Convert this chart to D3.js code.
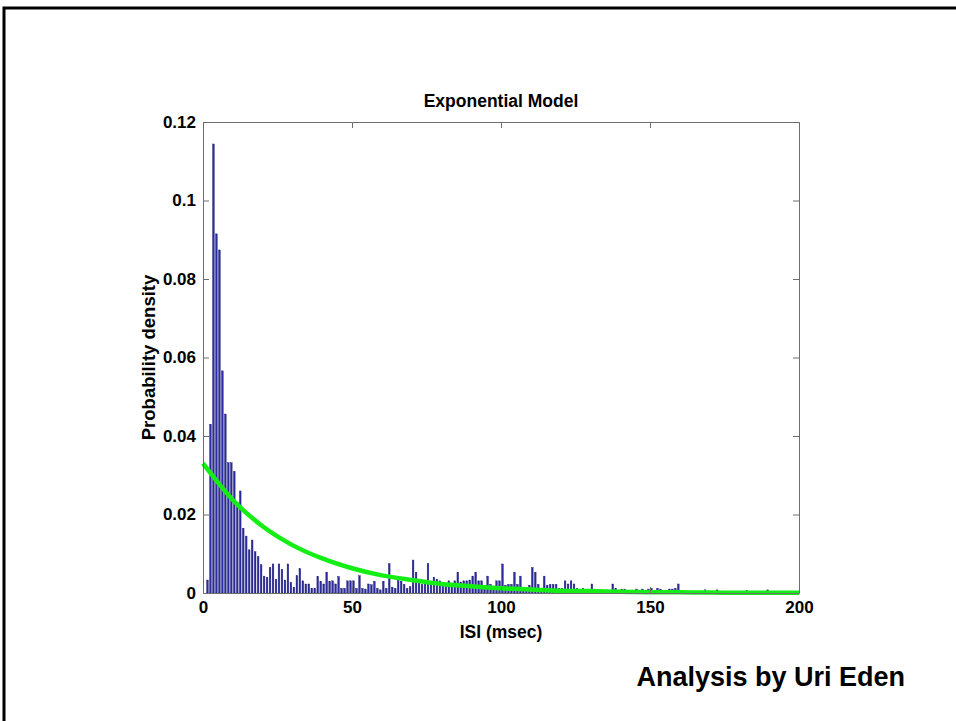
<!DOCTYPE html>
<html>
<head>
<meta charset="utf-8">
<script src="https://cdn.jsdelivr.net/npm/d3@7"></script>
<style>
  html, body { margin: 0; padding: 0; background: #fff; }
  svg text { font-family: "Liberation Sans", Arial, Helvetica, sans-serif; font-weight: bold; }
</style>
</head>
<body>
<svg id="chart" width="956" height="721"></svg>
<script>
// ISI histogram, 1 msec bins (0-1, 1-2, ... 199-200), probability density
var density = [
  0, 0.0033, 0.043, 0.1144, 0.0915, 0.0874, 0.0566, 0.0456, 0.0332, 0.0332,
  0.031, 0.023, 0.026, 0.0165, 0.0145, 0.011, 0.0135, 0.0105, 0.0093, 0.0072,
  0.0043, 0.004, 0.0065, 0.0074, 0.0035, 0.0074, 0.006, 0.0033, 0.0074, 0.0027,
  0.0015, 0.0044, 0.0062, 0.0031, 0.0023, 0.0023, 0.0012, 0.0012, 0.0042, 0.003,
  0.0023, 0.0053, 0.003, 0.0031, 0.0023, 0.0042, 0.0012, 0.0012, 0.0031, 0.0031,
  0.0031, 0.0012, 0.0044, 0.0012, 0.001, 0.0023, 0.0021, 0.003, 0.0012, 0.0008,
  0.003, 0.0012, 0.0075, 0.0015, 0.0012, 0.0032, 0.003, 0.0022, 0.0012, 0.0016,
  0.0084, 0.0053, 0.0025, 0.0022, 0.0028, 0.0075, 0.0028, 0.004, 0.0035, 0.0031,
  0.0022, 0.002, 0.0031, 0.0025, 0.0031, 0.0053, 0.0028, 0.0031, 0.0031, 0.0033,
  0.0043, 0.0053, 0.0031, 0.0031, 0.002, 0.0043, 0.0022, 0.0012, 0.0031, 0.0031,
  0.0074, 0.002, 0.0022, 0.0022, 0.0053, 0.0022, 0.0043, 0.001, 0.0012, 0.002,
  0.0065, 0.0053, 0.0022, 0.0012, 0.0043, 0.002, 0.0022, 0.0022, 0.0022, 0.0012,
  0.0012, 0.0031, 0.0023, 0.0031, 0.0023, 0.0012, 0.0008, 0.0012, 0.0006, 0.0008,
  0.0023, 0.0008, 0.0006, 0.0008, 0.0006, 0.0008, 0.0006, 0.0023, 0.0012, 0.0006,
  0.001, 0.001, 0.0004, 0, 0.0004, 0.001, 0.0006, 0.001, 0.0004, 0.001,
  0.0012, 0.0006, 0.0012, 0.001, 0, 0.0004, 0.001, 0.001, 0.0012, 0.0023,
  0, 0, 0, 0, 0, 0, 0, 0, 0.0008, 0,
  0, 0, 0.0008, 0, 0, 0, 0, 0, 0, 0,
  0, 0, 0.0006, 0, 0, 0, 0, 0, 0, 0.0008,
  0, 0, 0, 0, 0, 0, 0, 0, 0, 0
];

// fitted exponential model
var modelX = [0, 10, 20, 30, 40, 50, 60, 70, 80, 90, 100, 110, 120, 130, 140, 150, 160, 170, 180, 190, 200];
var modelY = [0.033, 0.0237, 0.017, 0.0122, 0.0088, 0.0063, 0.0045, 0.0033, 0.0023, 0.0017,
  0.0012, 0.0009, 0.0006, 0.0005, 0.0003, 0.0002, 0.00017, 0.0001, 0.00009, 0.00006, 0.00004];

var xTicks = [0, 50, 100, 150, 200];
var yTicks = [0, 0.02, 0.04, 0.06, 0.08, 0.1, 0.12];

var svg = d3.select("#chart"),
  width = +svg.attr("width"),
  height = +svg.attr("height");

var plot = { left: 203, right: 799, top: 122, bottom: 593 };
var axisColor = "#6e6e6e";

// slide frame (left and top edges)
svg.append("path")
  .attr("d", "M4,721 L4,8 L956,8")
  .attr("fill", "none")
  .attr("stroke", "#000")
  .attr("stroke-width", 3);

var x = d3.scaleLinear().domain([0, 200]).range([plot.left, plot.right]);
var y = d3.scaleLinear().domain([0, 0.12]).range([plot.bottom, plot.top]);

// bars
var binW = x(1) - x(0);
svg.append("g")
  .selectAll("rect")
  .data(density.map(function (v, i) { return { bin: i, v: v }; }).filter(function (d) { return d.v > 0; }))
  .enter().append("rect")
  .attr("x", function (d) { return x(d.bin + 0.5) - binW * 0.28; })
  .attr("width", binW * 0.56)
  .attr("y", function (d) { return y(d.v); })
  .attr("height", function (d) { return y(0) - y(d.v); })
  .attr("fill", "#2c2c9c")
  .attr("stroke", "#1a1a78")
  .attr("stroke-width", 0.4);

// model curve
var line = d3.line()
  .x(function (d) { return x(d[0]); })
  .y(function (d) { return y(d[1]); })
  .curve(d3.curveMonotoneX);

svg.append("path")
  .datum(modelX.map(function (v, i) { return [v, modelY[i]]; }))
  .attr("d", line)
  .attr("fill", "none")
  .attr("stroke", "#14ee14")
  .attr("stroke-width", 4.5);

// axes, MATLAB style box with inward ticks
function styleAxis(g) {
  g.selectAll(".domain").attr("stroke", axisColor);
  g.selectAll(".tick line").attr("stroke", axisColor);
  g.selectAll(".tick text").attr("fill", "#000").style("font-size", "17px").style("font-weight", "bold");
}

svg.append("g")
  .attr("transform", "translate(0," + plot.bottom + ")")
  .call(d3.axisBottom(x).tickValues(xTicks).tickSizeInner(-6).tickSizeOuter(0).tickPadding(8)
    .tickFormat(d3.format("d")))
  .call(styleAxis);

svg.append("g")
  .attr("transform", "translate(0," + plot.top + ")")
  .call(d3.axisTop(x).tickValues(xTicks).tickSizeInner(-6).tickSizeOuter(0).tickFormat(""))
  .call(styleAxis);

svg.append("g")
  .attr("transform", "translate(" + plot.left + ",0)")
  .call(d3.axisLeft(y).tickValues(yTicks).tickSizeInner(-6).tickSizeOuter(0).tickPadding(7)
    .tickFormat(function (d) { return d === 0 ? "0" : d3.format("")(+d.toFixed(2)); }))
  .call(styleAxis);

svg.append("g")
  .attr("transform", "translate(" + plot.right + ",0)")
  .call(d3.axisRight(y).tickValues(yTicks).tickSizeInner(-6).tickSizeOuter(0).tickFormat(""))
  .call(styleAxis);

// titles
svg.append("text")
  .attr("x", (plot.left + plot.right) / 2)
  .attr("y", 107)
  .attr("text-anchor", "middle")
  .style("font-size", "17.5px")
  .text("Exponential Model");

svg.append("text")
  .attr("x", (plot.left + plot.right) / 2)
  .attr("y", 638)
  .attr("text-anchor", "middle")
  .style("font-size", "17.5px")
  .text("ISI (msec)");

svg.append("text")
  .attr("transform", "translate(155," + (plot.top + plot.bottom) / 2 + ") rotate(-90)")
  .attr("text-anchor", "middle")
  .style("font-size", "18.5px")
  .text("Probability density");

svg.append("text")
  .attr("x", 905)
  .attr("y", 686)
  .attr("text-anchor", "end")
  .style("font-size", "27px")
  .text("Analysis by Uri Eden");
</script>
</body>
</html>
